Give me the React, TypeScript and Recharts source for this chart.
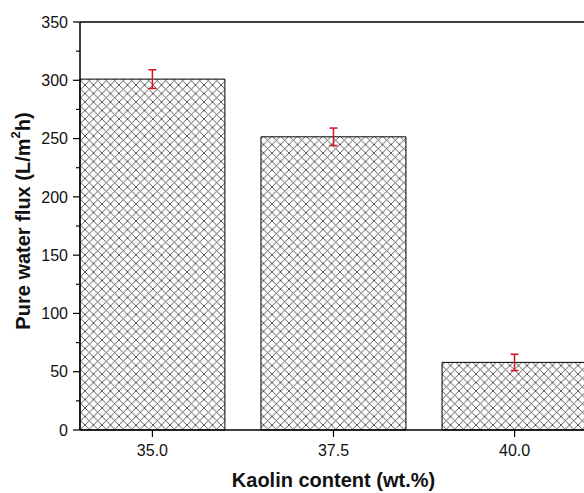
import { ComposedChart, Bar, XAxis, YAxis, ErrorBar, ReferenceLine } from 'recharts'

const kaolin = [35, 37.5, 40]
const flux = [301, 251.5, 58]
const fluxErr = [8, 7.5, 7]
const xTicks = [35, 37.5, 40]
const yTicks = [0, 25, 50, 75, 100, 125, 150, 175, 200, 225, 250, 275, 300, 325, 350]

const data = kaolin.map((k, i) => ({ k, flux: flux[i], err: fluxErr[i] }))

const FONT = "Arial, 'Liberation Sans', sans-serif"
const TICK_SIZE = 7
const TICK_MARGIN = 5
const HATCH = 8.5

// y ticks: long tick + label every 50, short tick in between
const YTick = (props: any) => {
  const { x, y, payload } = props
  const axisX = x + TICK_SIZE + TICK_MARGIN
  const major = payload.value % 50 === 0
  return (
    <g>
      <line x1={axisX - (major ? TICK_SIZE : 4)} x2={axisX} y1={y} y2={y} stroke="#000" strokeWidth={1.2} />
      {major && (
        <text x={x} y={y} dy="0.36em" textAnchor="end" fontSize={16} fontFamily={FONT} fill="#111">
          {payload.value}
        </text>
      )}
    </g>
  )
}

const YLabel = (props: any) => {
  const { viewBox } = props
  const cx = 23
  const cy = viewBox.y + viewBox.height / 2 - 5
  return (
    <text
      x={cx}
      y={cy}
      transform={`rotate(-90, ${cx}, ${cy})`}
      textAnchor="middle"
      dominantBaseline="central"
      fontSize={20}
      fontWeight="bold"
      fontFamily={FONT}
      fill="#111"
    >
      Pure water flux (L/m<tspan dy={-8} fontSize={13}>2</tspan><tspan dy={8}>h)</tspan>
    </text>
  )
}

const XLabel = (props: any) => {
  const { viewBox } = props
  return (
    <text
      x={viewBox.x + viewBox.width / 2}
      y={viewBox.y + 57}
      textAnchor="middle"
      fontSize={20}
      fontWeight="bold"
      fontFamily={FONT}
      fill="#111"
    >
      Kaolin content (wt.%)
    </text>
  )
}

export default function App() {
  return (
    <div style={{ position: 'absolute', left: 0, top: 0, width: 584, height: 493, overflow: 'hidden', background: '#fff' }}>
      <ComposedChart width={600} height={493} data={data} margin={{ top: 22, right: 13, left: 0, bottom: 0 }}>
        <defs>
          <pattern id="hatch" width={HATCH} height={HATCH} patternUnits="userSpaceOnUse">
            <rect width={HATCH} height={HATCH} fill="#fff" />
            <path
              d={`M-1,1 l2,-2 M0,${HATCH} l${HATCH},-${HATCH} M${HATCH - 1},${HATCH + 1} l2,-2`}
              stroke="#4a4a4a"
              strokeWidth={0.9}
            />
            <path
              d={`M-1,${HATCH - 1} l2,2 M0,0 l${HATCH},${HATCH} M${HATCH - 1},-1 l2,2`}
              stroke="#4a4a4a"
              strokeWidth={0.9}
            />
          </pattern>
        </defs>
        <XAxis
          dataKey="k"
          type="number"
          domain={[34, 41]}
          ticks={xTicks}
          tickFormatter={(v: number) => v.toFixed(1)}
          height={63}
          tickSize={TICK_SIZE}
          tickMargin={8}
          tick={{ fontSize: 16, fontFamily: FONT, fill: '#111' }}
          axisLine={{ stroke: '#000', strokeWidth: 1.5 }}
          tickLine={{ stroke: '#000', strokeWidth: 1.2 }}
          label={<XLabel />}
        />
        <YAxis
          type="number"
          domain={[0, 350]}
          ticks={yTicks}
          interval={0}
          width={80}
          tickSize={TICK_SIZE}
          tickMargin={TICK_MARGIN}
          tickLine={false}
          tick={<YTick />}
          axisLine={{ stroke: '#000', strokeWidth: 1.5 }}
          label={<YLabel />}
        />
        <ReferenceLine y={350} stroke="#000" strokeWidth={1.5} />
        <Bar dataKey="flux" barSize={145} fill="url(#hatch)" stroke="#000" strokeWidth={1} isAnimationActive={false}>
          <ErrorBar dataKey="err" width={4} stroke="#d4141c" strokeWidth={1.5} direction="y" />
        </Bar>
      </ComposedChart>
    </div>
  )
}
